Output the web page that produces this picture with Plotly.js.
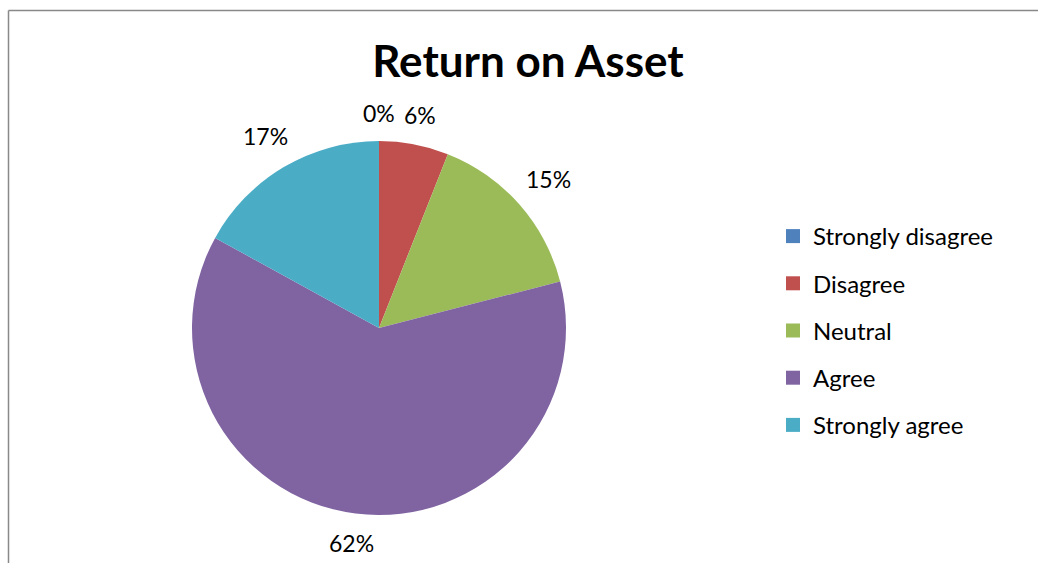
<!DOCTYPE html>
<html>
<head>
<meta charset="utf-8">
<script src="https://cdn.plot.ly/plotly-3.0.1.min.js"></script>
<style>html,body{margin:0;padding:0;background:#fff;}#chart{width:1038px;height:563px;}</style>
</head>
<body>
<div id="chart"></div>
<script>
const categories = ["Strongly disagree", "Disagree", "Neutral", "Agree", "Strongly agree"];
const values = [0, 6, 15, 62, 17];
const colors = ["#4F81BD", "#C0504D", "#9BBB59", "#8064A2", "#4BACC6"];
const chartTitle = "Return on Asset";

const W = 1038, H = 563;
const FONT = "Lato, 'Open Sans', sans-serif";
const LABEL_SIZE = 23;

// pie geometry (pixels) -> domain
const cx = 379, cy = 328, R = 187;
const domain = {x: [(cx - R) / W, (cx + R) / W], y: [1 - (cy + R) / H, 1 - (cy - R) / H]};

const pie = {
  type: "pie",
  labels: categories,
  values: values,
  sort: false,
  direction: "clockwise",
  rotation: 0,
  marker: {colors: colors, line: {width: 0}},
  textinfo: "none",
  showlegend: false,
  hoverinfo: "label+value+percent",
  domain: domain
};

const legendTraces = categories.map((c, i) => ({
  type: "scatter",
  mode: "markers",
  x: [null], y: [null],
  name: c,
  legendgroup: "g" + i,
  marker: {symbol: "square", size: 14, color: colors[i]},
  showlegend: true,
  hoverinfo: "skip"
}));

// outside percentage labels placed from the slice mid-angles
const total = values.reduce((a, b) => a + b, 0);
const annotations = [];
let cum = 0;
values.forEach((v, i) => {
  const mid = (cum + v / 2) / total * 2 * Math.PI; // clockwise from 12 o'clock
  cum += v;
  const txt = Math.round(v / total * 100) + "%";
  const hw = txt.length * LABEL_SIZE * 0.29, hh = LABEL_SIZE * 0.5;
  const s = Math.sin(mid), c = Math.cos(mid);
  const d = R + 16 + hw * Math.abs(s) + hh * Math.abs(c);
  const px = cx + d * s, py = cy - d * c;
  annotations.push({
    xref: "paper", yref: "paper", x: px / W, y: 1 - py / H,
    xanchor: "center", yanchor: "middle", showarrow: false, text: txt,
    font: {family: FONT, size: LABEL_SIZE, color: "#000"}
  });
});

const layout = {
  width: W, height: H,
  margin: {l: 0, r: 0, t: 0, b: 0},
  paper_bgcolor: "#fff",
  plot_bgcolor: "rgba(0,0,0,0)",
  font: {family: FONT, color: "#000"},
  title: {text: "<b>" + chartTitle + "</b>", font: {family: FONT, size: 44, color: "#000"},
          x: 528 / W, xanchor: "center", y: 1 - 62 / H, yanchor: "middle"},
  xaxis: {visible: false},
  yaxis: {visible: false},
  showlegend: true,
  legend: {x: 773 / W, xanchor: "left", y: 1 - 214 / H, yanchor: "top",
           font: {family: FONT, size: 24, color: "#000"}, tracegroupgap: 13,
           bgcolor: "rgba(0,0,0,0)", itemwidth: 30},
  annotations: annotations,
  shapes: [
    {type: "line", xref: "paper", yref: "paper", x0: 8.5 / W, x1: 1.01, y0: 1 - 10.5 / H, y1: 1 - 10.5 / H,
     line: {color: "#898989", width: 1.5}},
    {type: "line", xref: "paper", yref: "paper", x0: 8.5 / W, x1: 8.5 / W, y0: 1 - 10.5 / H, y1: -0.01,
     line: {color: "#898989", width: 1.5}}
  ]
};

Plotly.newPlot("chart", [pie].concat(legendTraces), layout, {displayModeBar: false, staticPlot: true});
</script>
</body>
</html>
